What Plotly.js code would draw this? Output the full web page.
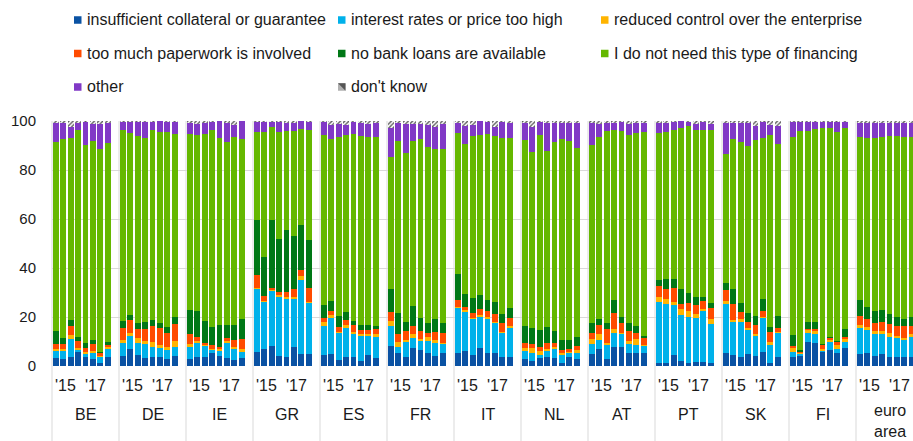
<!DOCTYPE html>
<html>
<head>
<meta charset="utf-8">
<script src="https://cdn.plot.ly/plotly-3.0.1.min.js"></script>
<style>html,body{margin:0;padding:0;background:#fff}#chart{width:913px;height:441px}</style>
</head>
<body>
<div id="chart"></div>
<script>
// ---------------- DATA ----------------
const countries = ['BE','DE','IE','GR','ES','FR','IT','NL','AT','PT','SK','FI','euro area'];
const rounds = ['2014H2','2015H1','2015H2','2016H1','2016H2','2017H1','2017H2','2018H1'];
const yearLabels = ["'15", "'17"];
const yTicks = [0, 20, 40, 60, 80, 100];

// one row per country, 8 survey rounds each (percent of enterprises)
const collateral = [
  3.4, 2.7, 3.8, 5.6, 3.8, 2.7, 1.4, 3.8,
  4.2, 6.8, 4.5, 3.1, 3.5, 3.5, 2.7, 4.2,
  2.8, 3.5, 3.8, 5.4, 4.1, 3.4, 2.4, 3.1,
  5.8, 6.8, 8.1, 4.1, 3.5, 7.9, 4.9, 4.9,
  4.5, 4.9, 2.4, 3.8, 3.8, 2.2, 4.5, 3.1,
  8.1, 5.2, 3.8, 7.2, 6.5, 5.2, 4.1, 5.2,
  5.2, 6.2, 4.5, 7.5, 5.2, 5.4, 3.8, 3.5,
  2.7, 2.2, 3.1, 3.5, 3.4, 1.1, 3.5, 2.7,
  4.9, 7.1, 2.7, 7.6, 7.9, 5.4, 5.2, 5.2,
  1.4, 1.4, 4.5, 2.2, 1.4, 1.8, 1.8, 1.4,
  5.4, 4.5, 3.8, 4.9, 4.1, 5.8, 1.4, 3.8,
  3.8, 4.1, 9.9, 9.2, 5.6, 6.5, 5.4, 7.5,
  4.9, 5.4, 4.2, 4.9, 3.8, 3.8, 3.8, 3.8
];
const interest = [
  2.8, 3.5, 7.1, 0.9, 1.3, 2.5, 2.4, 3.0,
  5.0, 5.4, 5.0, 5.7, 4.4, 3.7, 3.8, 3.7,
  5.1, 5.7, 4.2, 1.1, 2.1, 6.1, 4.4, 2.7,
  25.5, 19.2, 22.4, 24.1, 24.0, 19.6, 30.1, 20.9,
  11.9, 14.8, 10.9, 11.9, 9.2, 10.0, 7.7, 8.8,
  8.3, 2.7, 5.8, 4.3, 3.8, 5.1, 5.4, 3.6,
  18.3, 15.9, 14.5, 12.3, 13.9, 12.2, 9.5, 12.2,
  3.5, 3.2, 1.4, 2.7, 3.4, 3.4, 1.9, 2.7,
  4.1, 3.5, 5.8, 5.7, 5.0, 3.6, 3.3, 2.8,
  24.8, 24.1, 20.3, 18.8, 18.4, 17.9, 20.6, 15.6,
  20.1, 13.5, 14.2, 9.8, 8.1, 13.6, 7.1, 9.5,
  2.0, 0.9, 3.7, 3.8, 0.6, 3.4, 1.7, 2.1,
  10.8, 9.3, 8.8, 8.1, 8.1, 7.5, 6.8, 8.1
];
const control = [
  0.9, 0.9, 1.7, 0.7, 0.7, 1.0, 0.3, 0.8,
  1.4, 1.4, 2.0, 1.4, 2.0, 1.3, 1.1, 2.4,
  1.1, 1.1, 0.5, 0.6, 0.6, 0.8, 0.8, 1.3,
  0.7, 0.5, 0.4, 0.7, 0.7, 0.7, 1.8, 0.4,
  1.5, 1.1, 0.7, 0.9, 0.7, 0.8, 0.8, 1.1,
  1.9, 1.7, 1.0, 1.5, 0.8, 1.4, 1.1, 0.7,
  0.7, 0.7, 0.4, 1.0, 1.0, 0.4, 0.7, 0.6,
  1.3, 1.8, 1.7, 0.6, 0.8, 0.9, 0.4, 1.1,
  1.9, 2.4, 0.7, 1.8, 0.7, 1.3, 2.4, 0.5,
  2.0, 2.0, 1.4, 2.1, 2.6, 1.5, 0.8, 2.0,
  1.0, 0.7, 1.1, 1.0, 0.7, 0.7, 1.1, 0.7,
  1.4, 0.5, 1.1, 1.2, 0.6, 0.7, 1.4, 1.3,
  1.0, 1.3, 1.4, 1.4, 1.4, 0.9, 0.9, 1.1
];
const paperwork = [
  1.9, 1.9, 3.7, 3.1, 1.7, 2.6, 1.1, 0.9,
  5.1, 5.1, 3.8, 5.1, 6.4, 7.2, 5.7, 6.8,
  4.0, 1.6, 0.7, 1.3, 0.8, 1.0, 3.0, 3.8,
  5.3, 2.0, 1.1, 1.4, 2.1, 3.4, 2.3, 5.8,
  1.8, 1.6, 2.0, 2.1, 2.9, 1.5, 1.9, 2.1,
  3.8, 3.4, 3.8, 3.4, 3.3, 1.6, 3.4, 3.8,
  2.7, 1.4, 2.3, 2.3, 2.3, 3.4, 3.6, 3.1,
  1.7, 1.6, 1.4, 2.4, 1.9, 1.1, 1.0, 1.6,
  2.4, 3.7, 6.1, 6.6, 3.8, 4.1, 2.4, 2.8,
  4.4, 4.1, 5.8, 2.4, 3.4, 3.6, 3.4, 4.5,
  4.4, 6.8, 3.0, 2.1, 3.8, 2.3, 4.4, 1.7,
  1.1, 0.3, 0.6, 1.1, 1.6, 0.8, 1.1, 1.0,
  3.7, 3.0, 3.2, 3.5, 3.8, 4.2, 4.8, 3.3
];
const noLoans = [
  5.2, 2.4, 2.4, 1.6, 2.0, 1.8, 0.6, 1.1,
  2.8, 2.1, 2.3, 2.6, 2.4, 1.7, 2.7, 3.0,
  9.8, 10.6, 9.3, 7.6, 9.1, 5.4, 6.1, 8.1,
  22.4, 16.0, 27.4, 21.7, 25.1, 21.3, 18.3, 19.3,
  5.4, 4.1, 4.4, 3.4, 1.9, 2.2, 1.8, 1.2,
  9.2, 8.7, 3.5, 8.0, 5.0, 4.3, 5.0, 4.3,
  10.5, 5.0, 6.1, 5.8, 4.5, 4.8, 3.6, 4.3,
  7.2, 6.8, 7.1, 6.8, 4.9, 4.1, 3.8, 3.8,
  4.3, 2.6, 2.1, 5.2, 2.7, 3.0, 3.0, 0.9,
  2.7, 4.1, 3.7, 6.1, 4.1, 3.4, 1.4, 2.3,
  2.8, 5.8, 3.7, 3.9, 3.7, 4.9, 2.0, 4.7,
  4.3, 0.7, 2.7, 2.7, 0.4, 0.5, 0.6, 3.4,
  6.7, 4.9, 4.8, 4.9, 4.1, 3.7, 2.7, 3.5
];
const notNeeded = [
  77.4, 81.3, 74.4, 84.4, 80.7, 81.4, 82.8, 81.4,
  77.8, 74.5, 76.4, 75.2, 77.6, 78.0, 79.4, 74.6,
  71.9, 71.9, 76.2, 80.3, 76.4, 74.9, 76.7, 73.5,
  35.7, 50.9, 38.0, 43.4, 40.4, 42.9, 39.3, 45.2,
  69.3, 66.2, 73.0, 72.3, 76.2, 77.1, 76.7, 77.3,
  53.9, 70.0, 69.1, 67.3, 73.3, 71.7, 69.6, 71.0,
  57.6, 61.4, 66.2, 65.5, 67.8, 67.8, 71.9, 69.4,
  75.9, 71.6, 79.7, 71.9, 77.2, 82.1, 81.1, 77.1,
  72.6, 74.1, 78.7, 69.4, 75.7, 77.0, 78.7, 83.2,
  59.7, 59.7, 60.6, 65.5, 68.2, 68.3, 68.5, 70.5,
  52.9, 61.4, 65.5, 67.9, 71.9, 65.8, 78.3, 70.2,
  80.8, 89.6, 77.8, 78.7, 88.3, 85.2, 85.2, 81.8,
  66.3, 69.2, 70.7, 70.6, 72.8, 73.9, 74.4, 73.6
];
const other = [
  7.7, 6.3, 4.4, 2.9, 9.4, 6.6, 10.2, 8.0,
  3.4, 4.4, 5.5, 6.4, 3.4, 4.5, 4.3, 5.0,
  4.4, 4.4, 4.4, 3.1, 6.9, 7.5, 5.1, 7.4,
  4.0, 4.0, 2.0, 4.0, 3.2, 3.2, 3.1, 2.9,
  5.0, 5.8, 5.4, 4.1, 4.8, 5.4, 5.4, 5.4,
  11.9, 7.3, 11.8, 7.2, 6.1, 9.2, 8.8, 10.2,
  4.0, 7.5, 4.5, 5.5, 4.8, 3.7, 6.4, 6.0,
  6.8, 10.2, 5.1, 11.2, 7.5, 6.4, 7.4, 10.1,
  8.9, 5.4, 3.0, 2.8, 3.7, 4.4, 4.1, 3.7,
  4.1, 3.7, 3.2, 2.8, 1.4, 2.3, 3.0, 2.5,
  12.5, 6.4, 7.8, 9.5, 5.8, 6.4, 4.2, 7.5,
  6.1, 3.4, 3.7, 2.8, 2.4, 2.4, 4.1, 2.4,
  5.7, 6.0, 6.0, 5.7, 5.1, 5.1, 5.7, 5.6
];
const dontKnow = [
  0.7, 1.0, 2.5, 0.8, 0.4, 1.4, 1.2, 1.0,
  0.3, 0.3, 0.5, 0.5, 0.3, 0.1, 0.3, 0.3,
  0.9, 1.2, 0.9, 0.6, 0.0, 0.9, 1.5, 0.1,
  0.6, 1.0, 0.6, 1.0, 1.0, 1.0, 0.2, 0.6,
  0.6, 1.5, 1.2, 1.5, 0.5, 0.8, 1.2, 1.0,
  2.9, 1.0, 1.2, 1.5, 1.2, 1.5, 2.6, 1.2,
  1.0, 1.9, 1.5, 1.2, 0.5, 2.3, 0.5, 0.9,
  0.9, 2.6, 0.5, 0.9, 0.9, 0.9, 0.9, 0.9,
  0.9, 1.2, 0.9, 0.9, 0.5, 1.2, 0.9, 0.9,
  0.9, 0.9, 0.5, 0.1, 0.5, 1.2, 0.5, 1.2,
  0.9, 0.9, 0.9, 0.9, 1.9, 0.5, 1.5, 1.9,
  0.5, 0.5, 0.5, 0.5, 0.5, 0.5, 0.5, 0.5,
  0.9, 0.9, 0.9, 0.9, 0.9, 0.9, 0.9, 0.9
];

// ---------------- STYLE / LAYOUT ----------------
const series = [
  {name: 'insufficient collateral or guarantee', data: collateral, color: '#0a52a3', col: 0, row: 0},
  {name: 'interest rates or price too high',     data: interest,   color: '#00b1ea', col: 1, row: 0},
  {name: 'reduced control over the enterprise',  data: control,    color: '#ffb400', col: 2, row: 0},
  {name: 'too much paperwork is involved',       data: paperwork,  color: '#ff4b00', col: 0, row: 1},
  {name: 'no bank loans are available',          data: noLoans,    color: '#007816', col: 1, row: 1},
  {name: 'I do not need this type of financing', data: notNeeded,  color: '#65b800', col: 2, row: 1},
  {name: 'other',                                data: other,      color: '#8139c6', col: 0, row: 2},
  {name: "don't know",                           data: dontKnow,   color: '#5c5c5c', col: 1, row: 2, hatch: true}
];

const FONT = '"Liberation Sans", Arial, Helvetica, sans-serif';
const TXT = '#1a1a1a';
const W = 913, H = 441, L = 52, T = 121, B = 75;
const plotW = W - L, plotH = H - T - B;
const SLOTS = 9;                 // 8 bars + 1 gap per country
const groupPx = 67;
const slotPx = groupPx / SLOTS;
const xMax = plotW / slotPx;     // last group is cut by the page edge

const px2x = px => (px - L) / plotW;
const py2y = py => (T + plotH - py) / plotH;

const xs = [], labels = [];
countries.forEach((c, g) => rounds.forEach((r, j) => { xs.push(g * SLOTS + j + 0.5); labels.push(c + ' ' + r); }));

const traces = series.map(s => ({
  type: 'bar', x: xs, y: s.data, name: s.name, width: 0.78,
  text: labels, hovertemplate: '%{text}<br>' + s.name + ': %{y}%<extra></extra>', textposition: 'none',
  marker: Object.assign({color: s.color, line: {width: 0}},
    s.hatch ? {pattern: {shape: '/', fgcolor: '#5c5c5c', bgcolor: '#ffffff', size: 3, solidity: 0.45}} : {}),
  showlegend: false
}));

const shapes = [], annotations = [];

// group separators (run through plot and label area)
for (let g = 0; g < countries.length; g++) {
  const xp = (g * SLOTS) / xMax;
  shapes.push({type: 'line', xref: 'paper', yref: 'paper', x0: xp, x1: xp, y0: 1, y1: py2y(H),
    line: {color: '#d9d9d9', width: 1}, layer: 'below'});
}

// category labels
countries.forEach((c, g) => {
  [1.8, 5.8].forEach((off, k) => annotations.push({
    xref: 'x', yref: 'paper', x: g * SLOTS + off, y: py2y(385), text: yearLabels[k],
    showarrow: false, xanchor: 'center', yanchor: 'middle', font: {size: 16, color: TXT, family: FONT}
  }));
  const two = c.indexOf(' ') > 0;
  annotations.push({
    xref: 'x', yref: 'paper', x: g * SLOTS + 4.5, y: py2y(two ? 420.5 : 414),
    text: c.replace(' ', '<br>'), showarrow: false, xanchor: 'center', yanchor: 'middle',
    font: {size: 16, color: TXT, family: FONT}
  });
});

// manual legend
const colSq = [74, 338, 601], colTx = [86, 349.5, 612.5], rowY = [20, 53.5, 87], SQ = 7.5;
series.forEach(s => {
  const x0 = colSq[s.col], yc = rowY[s.row];
  if (s.hatch) {
    shapes.push({type: 'rect', xref: 'paper', yref: 'paper', x0: px2x(x0), x1: px2x(x0 + SQ),
      y0: py2y(yc + SQ / 2), y1: py2y(yc - SQ / 2), fillcolor: '#b0b0b0', line: {width: 0}});
    const p = [[x0, yc - SQ / 2], [x0 + SQ, yc - SQ / 2], [x0 + SQ, yc + SQ / 2]];
    shapes.push({type: 'path', xref: 'paper', yref: 'paper',
      path: 'M' + p.map(q => px2x(q[0]) + ',' + py2y(q[1])).join('L') + 'Z',
      fillcolor: '#555555', line: {width: 0}});
  } else {
    shapes.push({type: 'rect', xref: 'paper', yref: 'paper', x0: px2x(x0), x1: px2x(x0 + SQ),
      y0: py2y(yc + SQ / 2), y1: py2y(yc - SQ / 2), fillcolor: s.color, line: {width: 0}});
  }
  annotations.push({xref: 'paper', yref: 'paper', x: px2x(colTx[s.col]), y: py2y(yc),
    text: s.name, showarrow: false, xanchor: 'left', yanchor: 'middle', borderpad: 0,
    font: {size: 16, color: TXT, family: FONT}});
});

const layout = {
  width: W, height: H,
  margin: {l: L, r: 0, t: T, b: B, pad: 0},
  barmode: 'stack', bargap: 0,
  showlegend: false,
  paper_bgcolor: '#ffffff', plot_bgcolor: '#ffffff',
  font: {family: FONT, size: 15, color: TXT},
  xaxis: {range: [0, xMax], showticklabels: false, showgrid: false, zeroline: false, ticks: '', fixedrange: true},
  yaxis: {range: [0, 100], tickvals: yTicks, ticktext: yTicks.map(String), showgrid: true, gridcolor: '#d9d9d9',
          gridwidth: 1, zeroline: false, ticks: '', ticklabelstandoff: 15, tickfont: {size: 15, color: TXT}, fixedrange: true},
  shapes: shapes,
  annotations: annotations
};

Plotly.newPlot('chart', traces, layout, {displayModeBar: false, staticPlot: true});
</script>
</body>
</html>
